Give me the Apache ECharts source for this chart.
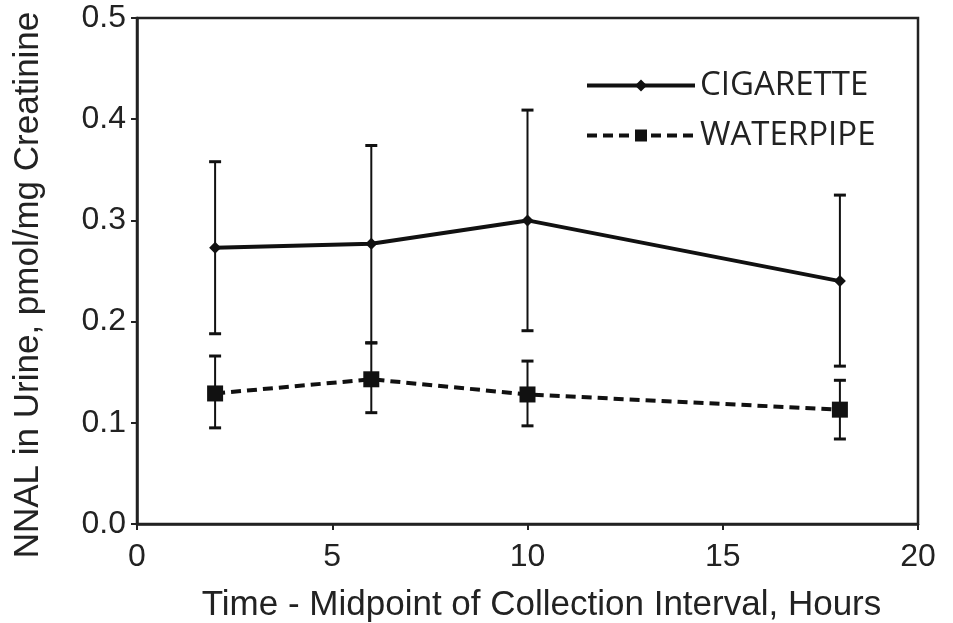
<!DOCTYPE html>
<html>
<head>
<meta charset="utf-8">
<script src="https://cdn.jsdelivr.net/npm/echarts@6/dist/echarts.min.js"></script>
<style>
html,body{margin:0;padding:0;background:#fff;}
#chart{width:953px;height:623px;}
</style>
</head>
<body>
<div id="chart"></div>
<script>
// time points (hours)
var hours = [2, 6, 10, 18];

// cigarette: mean, upper, lower
var cigMean = [0.273, 0.277, 0.300, 0.240];
var cigHigh = [0.358, 0.374, 0.409, 0.325];
var cigLow  = [0.188, 0.179, 0.191, 0.156];

// waterpipe: mean, upper, lower
var wpMean = [0.129, 0.143, 0.128, 0.113];
var wpHigh = [0.166, 0.179, 0.161, 0.142];
var wpLow  = [0.095, 0.110, 0.097, 0.084];

var xTicks = [0, 5, 10, 15, 20];
var yTicks = [0.0, 0.1, 0.2, 0.3, 0.4, 0.5];

function pairs(xs, ys){
	var out = [];
	for (var i = 0; i < xs.length; i++) out.push([xs[i], ys[i]]);
	return out;
}
function errRows(xs, lo, hi){
	var out = [];
	for (var i = 0; i < xs.length; i++) out.push([xs[i], lo[i], hi[i]]);
	return out;
}

// error bar: vertical line + caps
function renderErr(params, api){
	var x = api.value(0);
	var lo = api.coord([x, api.value(1)]);
	var hi = api.coord([x, api.value(2)]);
	var half = 6;
	return {
		type:'group',
		children:[
			{type:'line', shape:{x1:lo[0], y1:lo[1], x2:hi[0], y2:hi[1]}, style:{stroke:'#111', lineWidth:2}},
			{type:'line', shape:{x1:lo[0]-half, y1:lo[1], x2:lo[0]+half, y2:lo[1]}, style:{stroke:'#111', lineWidth:3}},
			{type:'line', shape:{x1:hi[0]-half, y1:hi[1], x2:hi[0]+half, y2:hi[1]}, style:{stroke:'#111', lineWidth:3}}
		]
	};
}

var myChart = echarts.init(document.getElementById('chart'));
var font = 'Liberation Sans, Arial, sans-serif';

myChart.setOption({
	animation:false,
	backgroundColor:'#fff',
	grid:{
		left:137, right:35, top:18, bottom:99,
		outerBoundsMode:'none',
		containLabel:false,
		show:true, borderColor:'#222', borderWidth:2.5
	},
	legend:{
		left:580, top:64,
		orient:'vertical',
		itemGap:17,
		itemWidth:108,
		itemHeight:15,
		lineStyle:{width:4},
		textStyle:{color:'#222', fontSize:33, fontFamily:'Open Sans, Lato, sans-serif'},
		data:['CIGARETTE','WATERPIPE']
	},
	xAxis:{
		type:'value',
		min:0, max:20, interval:5,
		name:'Time - Midpoint of Collection Interval, Hours',
		nameLocation:'middle',
		nameGap:64,
		nameTextStyle:{color:'#222', fontSize:35, fontFamily:font, padding:[0,0,0,28]},
		axisLine:{lineStyle:{color:'#222', width:2.5}},
		axisTick:{show:true, inside:false, length:6, lineStyle:{color:'#222', width:2}},
		axisLabel:{color:'#222', fontSize:32, fontFamily:font, margin:17},
		splitLine:{show:false}
	},
	yAxis:{
		type:'value',
		min:0, max:0.5, interval:0.1,
		name:'NNAL in Urine, pmol/mg Creatinine',
		nameLocation:'middle',
		nameGap:91,
		nameTextStyle:{color:'#222', fontSize:35, fontFamily:font, padding:[0,28,0,0]},
		axisLine:{lineStyle:{color:'#222', width:2.5}},
		axisTick:{show:true, inside:false, length:6, lineStyle:{color:'#222', width:2}},
		axisLabel:{color:'#222', fontSize:32, fontFamily:font, margin:11,
			formatter:function(v){ return v.toFixed(1); }},
		splitLine:{show:false}
	},
	series:[
		{
			name:'CIGARETTE',
			type:'line',
			data:pairs(hours, cigMean),
			symbol:'diamond',
			symbolSize:12,
			lineStyle:{color:'#111', width:4, type:'solid'},
			itemStyle:{color:'#111'},
			z:3
		},
		{
			name:'WATERPIPE',
			type:'line',
			data:pairs(hours, wpMean),
			symbol:'rect',
			symbolSize:16,
			lineStyle:{color:'#111', width:4, type:[10,6]},
			itemStyle:{color:'#111'},
			z:3
		},
		{
			type:'custom',
			renderItem:renderErr,
			data:errRows(hours, cigLow, cigHigh),
			encode:{x:0, y:[1,2]},
			z:2
		},
		{
			type:'custom',
			renderItem:renderErr,
			data:errRows(hours, wpLow, wpHigh),
			encode:{x:0, y:[1,2]},
			z:2
		}
	]
});
</script>
</body>
</html>
